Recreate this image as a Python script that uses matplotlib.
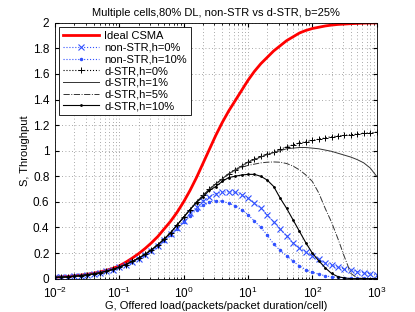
import numpy as np
import matplotlib
matplotlib.use('Agg')
import matplotlib.pyplot as plt
from matplotlib.ticker import LogLocator, MultipleLocator, FuncFormatter

plt.rcParams['font.family'] = ['Liberation Sans', 'DejaVu Sans']
plt.rcParams['mathtext.default'] = 'regular'

#Offered load, 10 points per decade from 1e-2 to 1e3
G = np.logspace(-2, 3, 51)

ideal_csma = [0.011, 0.014, 0.017, 0.022, 0.027, 0.034, 0.042, 0.052, 0.065, 0.08,
              0.10, 0.128, 0.16, 0.195, 0.235, 0.28, 0.33, 0.39, 0.45, 0.52,
              0.60, 0.69, 0.79, 0.90, 1.01, 1.12, 1.22, 1.31, 1.39, 1.47,
              1.55, 1.62, 1.68, 1.73, 1.78, 1.82, 1.86, 1.89, 1.92, 1.94,
              1.955, 1.965, 1.975, 1.982, 1.987, 1.99, 1.993, 1.995, 1.997, 1.998, 1.999]

non_str_h0 = [0.01, 0.012, 0.015, 0.019, 0.024, 0.03, 0.037, 0.046, 0.057, 0.071,
              0.087, 0.106, 0.128, 0.153, 0.183, 0.217, 0.256, 0.30, 0.347, 0.398,
              0.45, 0.51, 0.56, 0.61, 0.64, 0.665, 0.675, 0.68, 0.675, 0.655,
              0.63, 0.59, 0.55, 0.50, 0.44, 0.39, 0.33, 0.28, 0.24, 0.205,
              0.175, 0.15, 0.125, 0.105, 0.09, 0.075, 0.065, 0.055, 0.045, 0.038, 0.032]

non_str_h10 = [0.01, 0.012, 0.015, 0.019, 0.024, 0.03, 0.037, 0.046, 0.057, 0.071,
               0.087, 0.106, 0.128, 0.153, 0.182, 0.215, 0.253, 0.295, 0.34, 0.39,
               0.44, 0.49, 0.54, 0.575, 0.60, 0.61, 0.605, 0.59, 0.57, 0.54,
               0.50, 0.45, 0.40, 0.34, 0.27, 0.22, 0.18, 0.135, 0.10, 0.07,
               0.05, 0.035, 0.022, 0.014, 0.009, 0.005, 0.003, 0.002, 0.001, 0.0, 0.0]

dstr_h0 = [0.01, 0.012, 0.015, 0.019, 0.024, 0.03, 0.037, 0.046, 0.058, 0.072,
           0.09, 0.11, 0.135, 0.16, 0.19, 0.225, 0.265, 0.31, 0.36, 0.42,
           0.48, 0.54, 0.60, 0.65, 0.70, 0.74, 0.78, 0.82, 0.85, 0.88,
           0.91, 0.935, 0.955, 0.975, 0.99, 1.01, 1.03, 1.045, 1.06, 1.07,
           1.08, 1.09, 1.10, 1.11, 1.115, 1.12, 1.125, 1.13, 1.135, 1.14, 1.145]

dstr_h1 = [0.01, 0.012, 0.015, 0.019, 0.024, 0.03, 0.037, 0.046, 0.058, 0.072,
           0.09, 0.11, 0.135, 0.16, 0.19, 0.225, 0.265, 0.31, 0.36, 0.42,
           0.48, 0.54, 0.60, 0.65, 0.70, 0.74, 0.78, 0.82, 0.85, 0.88,
           0.91, 0.93, 0.95, 0.97, 0.985, 1.0, 1.015, 1.02, 1.025, 1.025,
           1.02, 1.015, 1.005, 0.995, 0.98, 0.965, 0.95, 0.93, 0.905, 0.865, 0.80]

dstr_h5 = [0.01, 0.012, 0.015, 0.019, 0.024, 0.03, 0.037, 0.046, 0.058, 0.072,
           0.09, 0.11, 0.135, 0.16, 0.19, 0.225, 0.265, 0.31, 0.36, 0.42,
           0.48, 0.54, 0.60, 0.65, 0.70, 0.74, 0.78, 0.815, 0.845, 0.87,
           0.885, 0.895, 0.905, 0.91, 0.912, 0.91, 0.90, 0.88, 0.85, 0.81,
           0.76, 0.67, 0.55, 0.44, 0.31, 0.17, 0.04, 0.005, 0.0, 0.0, 0.0]

dstr_h10 = [0.01, 0.012, 0.015, 0.019, 0.024, 0.03, 0.037, 0.046, 0.058, 0.072,
            0.09, 0.11, 0.135, 0.16, 0.19, 0.225, 0.265, 0.31, 0.36, 0.42,
            0.48, 0.54, 0.595, 0.64, 0.69, 0.72, 0.76, 0.79, 0.80, 0.81,
            0.815, 0.815, 0.80, 0.77, 0.72, 0.63, 0.55, 0.46, 0.37, 0.28,
            0.20, 0.14, 0.085, 0.04, 0.015, 0.005, 0.0, 0.0, 0.0, 0.0, 0.0]

fig = plt.figure(figsize=(4.15, 3.12), dpi=100)
ax = fig.add_axes([0.1325, 0.107, 0.775, 0.820])

ax.semilogx(G, ideal_csma, color='red', lw=2, label='Ideal CSMA')
ax.semilogx(G, non_str_h0, color='#3050ff', ls=':', lw=0.8, marker='x', ms=4, mew=0.8, label='non-STR,h=0%')
ax.semilogx(G, non_str_h10, color='#3050ff', ls=':', lw=0.8, marker='.', ms=3, label='non-STR,h=10%')
ax.semilogx(G, dstr_h0, color='black', ls=':', lw=0.8, marker='+', ms=5, mew=0.7, label='d-STR,h=0%')
ax.semilogx(G, dstr_h1, color='#333333', ls='-', lw=0.7, label='d-STR,h=1%')
ax.semilogx(G, dstr_h5, color='#333333', ls='-.', lw=0.7, label='d-STR,h=5%')
ax.semilogx(G, dstr_h10, color='black', ls='-', lw=0.8, marker='.', ms=2, label='d-STR,h=10%')

ax.set_xlim(1e-2, 1e3)
ax.set_ylim(0, 2)
ax.yaxis.set_major_locator(MultipleLocator(0.2))
ax.yaxis.set_major_formatter(FuncFormatter(lambda v, p: ('%.1f' % v).rstrip('0').rstrip('.')))
ax.xaxis.set_major_locator(LogLocator(base=10, numticks=10))
ax.xaxis.set_minor_locator(LogLocator(base=10, subs=np.arange(2, 10), numticks=20))

ax.grid(True, which='major', axis='both', ls=(0, (1, 3)), lw=0.6, color='#8c8c8c')
ax.grid(True, which='minor', axis='x', ls=(0, (1, 3)), lw=0.6, color='#8c8c8c')
ax.tick_params(which='both', direction='in', top=True, right=True, labelsize=8.5)
ax.tick_params(which='major', length=3)
ax.tick_params(which='minor', length=1.5)
ax.tick_params(axis='x', pad=5)
ax.tick_params(axis='y', pad=4)
for s in ax.spines.values():
    s.set_linewidth(0.6)

ax.set_title('Multiple cells,80% DL, non-STR vs d-STR, b=25%', fontsize=8, pad=5)
ax.set_xlabel('G, Offered load(packets/packet duration/cell)', fontsize=8, labelpad=0)
ax.set_ylabel('S, Throughput', fontsize=8, labelpad=2)

leg = ax.legend(loc='upper left', fontsize=8, fancybox=False, edgecolor='black',
                handlelength=3.2, borderpad=0.35, labelspacing=0.15, handletextpad=0.5,
                borderaxespad=0.4, framealpha=1)
leg.get_frame().set_linewidth(0.6)

fig.savefig('out.png', dpi=100)
